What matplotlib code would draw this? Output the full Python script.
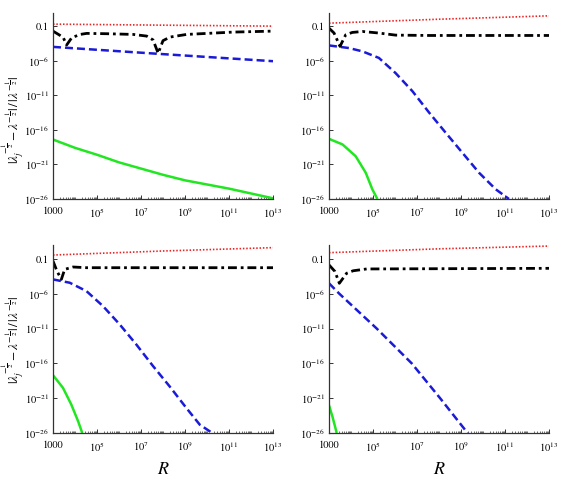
import numpy as np
import matplotlib
matplotlib.use("Agg")
import matplotlib.pyplot as plt
from matplotlib.ticker import FixedLocator, LogLocator, NullFormatter, NullLocator

plt.rcParams['font.family'] = ['STIXGeneral', 'DejaVu Serif']
plt.rcParams['mathtext.fontset'] = 'stix'

# ---- data (log10 R, log10 relative error) ----
# top-left panel
tl_red_x = [3, 8, 13]
tl_red_y = [-0.71, -0.86, -1.0]
tl_black_x = [3, 3.3, 3.47, 3.62, 3.85, 4.23, 4.53, 5.5, 6.65, 7.26, 7.55, 7.78, 8.0, 8.32, 9.07, 11.2, 13]
tl_black_y = [-1.72, -2.3, -2.68, -3.73, -2.68, -2.2, -2.05, -2.1, -2.2, -2.44, -3.0, -4.93, -3.1, -2.58, -2.2, -1.86, -1.72]
tl_blue_x = [3, 8, 13]
tl_blue_y = [-4.0, -5.05, -6.07]
tl_green_x = [3, 4, 5, 6, 7, 8, 9, 10, 11, 12, 13]
tl_green_y = [-17.4, -18.6, -19.6, -20.7, -21.6, -22.5, -23.3, -23.9, -24.5, -25.2, -25.9]

# top-right panel
tr_red_x = [3, 8, 13]
tr_red_y = [-0.57, 0.0, 0.49]
tr_black_x = [3, 3.23, 3.5, 3.76, 4.06, 4.52, 5.27, 6.03, 7.55, 13]
tr_black_y = [-1.29, -2.0, -3.93, -2.25, -1.91, -1.77, -2.0, -2.3, -2.35, -2.35]
tr_blue_x = [3, 3.91, 4.52, 5.27, 6.03, 6.79, 7.55, 8.3, 9.06, 9.82, 10.58, 11.18]
tr_blue_y = [-3.79, -4.17, -4.65, -5.6, -7.8, -10.4, -13.5, -16.4, -19.3, -22.2, -24.6, -26.0]
tr_green_x = [3, 3.61, 4.21, 4.67, 4.97, 5.2]
tr_green_y = [-17.3, -18.1, -19.8, -22.2, -24.6, -26.0]

# bottom-left panel
bl_red_x = [3, 8, 13]
bl_red_y = [-0.44, 0.14, 0.62]
bl_black_x = [3, 3.18, 3.38, 3.53, 3.91, 4.52, 13]
bl_black_y = [-1.3, -2.74, -3.94, -2.5, -2.16, -2.26, -2.26]
bl_blue_x = [3, 3.76, 4.52, 5.27, 6.03, 6.79, 7.55, 8.3, 9.06, 9.67, 10.24]
bl_blue_y = [-3.94, -4.42, -5.62, -7.77, -10.4, -13.3, -16.4, -19.3, -22.4, -24.8, -26.0]
bl_green_x = [3, 3.45, 3.83, 4.14, 4.33]
bl_green_y = [-17.7, -19.5, -21.9, -24.3, -26.0]

# bottom-right panel
br_red_x = [3, 8, 13]
br_red_y = [-0.1, 0.45, 0.85]
br_black_x = [3, 3.27, 3.47, 3.8, 4.1, 4.71, 13]
br_black_y = [-1.86, -2.8, -4.5, -3.06, -2.7, -2.44, -2.35]
br_blue_x = [3, 3.47, 5.17, 6.76, 8.05, 9.3]
br_blue_y = [-4.5, -6.0, -11.0, -16.0, -21.0, -26.0]
br_green_x = [3, 3.17, 3.35]
br_green_y = [-22.0, -23.8, -26.0]

xtick_vals = [1e3, 1e5, 1e7, 1e9, 1e11, 1e13]
xtick_labels = ['1000', r'$10^{5}$', r'$10^{7}$', r'$10^{9}$', r'$10^{11}$', r'$10^{13}$']
ytick_vals = [1e-1, 1e-6, 1e-11, 1e-16, 1e-21, 1e-26]
ytick_labels = ['0.1', r'$10^{-6}$', r'$10^{-11}$', r'$10^{-16}$', r'$10^{-21}$', r'$10^{-26}$']

panels = [
    (tl_red_x, tl_red_y, tl_black_x, tl_black_y, tl_blue_x, tl_blue_y, tl_green_x, tl_green_y),
    (tr_red_x, tr_red_y, tr_black_x, tr_black_y, tr_blue_x, tr_blue_y, tr_green_x, tr_green_y),
    (bl_red_x, bl_red_y, bl_black_x, bl_black_y, bl_blue_x, bl_blue_y, bl_green_x, bl_green_y),
    (br_red_x, br_red_y, br_black_x, br_black_y, br_blue_x, br_blue_y, br_green_x, br_green_y),
]

W, H = 563, 490
fig = plt.figure(figsize=(W / 100, H / 100), dpi=100)

# axes boxes in pixels: left, top, right, bottom
boxes = [(53, 13, 273, 199), (329, 13, 549, 199), (53, 245, 273, 433), (329, 245, 549, 433)]
ytops = [10 ** 0.9, 10 ** 0.9, 10 ** 1.0, 10 ** 1.0]

axes = []
for (l, t, r, b), data, ytop in zip(boxes, panels, ytops):
    ax = fig.add_axes([l / W, 1 - b / H, (r - l) / W, (b - t) / H])
    rx, ry, kx, ky, bx, by, gx, gy = data
    p = lambda v: np.power(10.0, np.asarray(v, dtype=float))
    ax.plot(p(gx), p(gy), color='#22e622', lw=1.8, solid_capstyle='butt', solid_joinstyle='round')
    ax.plot(p(bx), p(by), color='#1a1ad8', lw=1.8, dashes=(3.2, 1.6))
    ax.plot(p(kx), p(ky), color='black', lw=2.0, dashes=(3.2, 1.4, 1.0, 1.4))
    ax.plot(p(rx), p(ry), color='#ee2020', lw=1.2, dashes=(0.9, 1.1))
    ax.set_xscale('log')
    ax.set_yscale('log')
    ax.set_xlim(1e3, 1e13)
    ax.set_ylim(1e-26, ytop)
    ax.xaxis.set_major_locator(FixedLocator(xtick_vals))
    ax.set_xticklabels(xtick_labels)
    ax.xaxis.set_minor_locator(LogLocator(base=10, subs=np.arange(1, 10), numticks=30))
    ax.xaxis.set_minor_formatter(NullFormatter())
    ax.yaxis.set_major_locator(FixedLocator(ytick_vals))
    ax.set_yticklabels(ytick_labels)
    ax.yaxis.set_minor_locator(NullLocator())
    for s in ['top', 'right']:
        ax.spines[s].set_visible(False)
    for s in ['left', 'bottom']:
        ax.spines[s].set_linewidth(0.9)
        ax.spines[s].set_color('#333333')
    ax.tick_params(axis='y', which='major', direction='in', length=3, width=0.7,
                   labelsize=7.5, pad=3, colors='#333333', labelcolor='black')
    ax.tick_params(axis='x', which='major', direction='in', length=3, width=0.7,
                   labelsize=7.5, pad=5, colors='#333333', labelcolor='black')
    ax.tick_params(axis='x', which='minor', direction='in', length=1.5, width=0.6, colors='#555555')
    axes.append(ax)

ylab = r'$|\lambda_j^{-\frac{1}{2}}-\lambda^{-\frac{1}{2}}|\,/\,|\lambda^{-\frac{1}{2}}|$'
fig.text(13 / W, 1 - 120 / H, ylab, rotation=90, ha='center', va='center', fontsize=9.5)
fig.text(13 / W, 1 - 340 / H, ylab, rotation=90, ha='center', va='center', fontsize=9.5)
fig.text(163 / W, 1 - 470 / H, r'$R$', ha='center', va='center', fontsize=13)
fig.text(439 / W, 1 - 470 / H, r'$R$', ha='center', va='center', fontsize=13)

fig.savefig('out.png', dpi=100)
